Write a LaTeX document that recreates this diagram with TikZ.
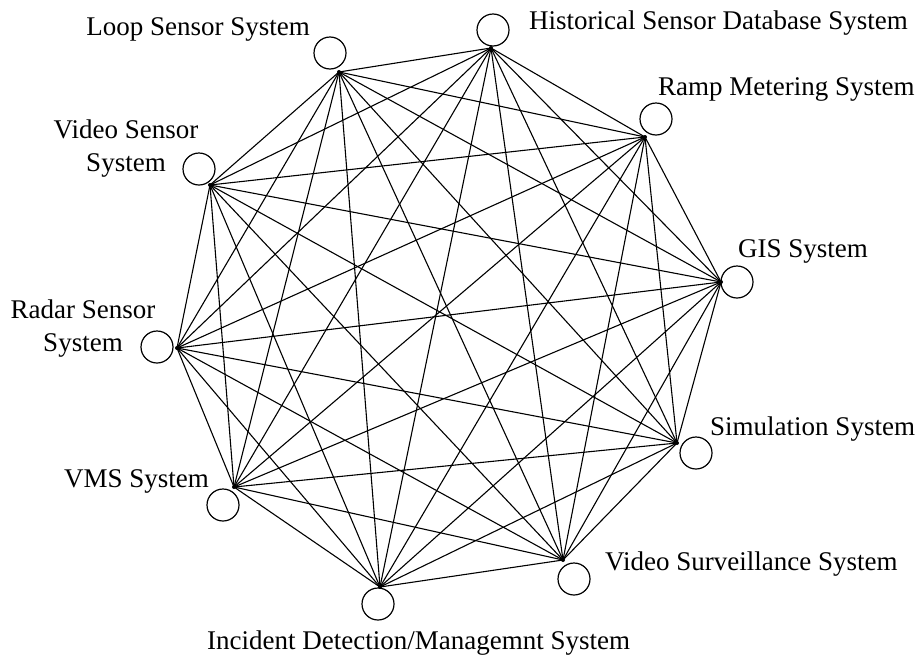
\documentclass[tikz,border=0pt]{standalone}
\usepackage{fontspec}
\setmainfont{Liberation Serif}
\begin{document}
\begin{tikzpicture}[x=1pt,y=-1pt,
  hub/.style={circle,fill=black,inner sep=0pt,minimum size=4pt},
  ring/.style={circle,draw=black,line width=1.2pt,inner sep=0pt,minimum size=32pt},
  link/.style={line width=1.1pt,black},
  lbl/.style={inner sep=0pt,font=\fontsize{27}{33}\selectfont}]
\useasboundingbox (0,0) rectangle (920,659);

% hubs where the links meet
\node[hub] (loop)  at (339,72)  {};
\node[hub] (hist)  at (491,48)  {};
\node[hub] (ramp)  at (645,137) {};
\node[hub] (gis)   at (721,282) {};
\node[hub] (sim)   at (677,443) {};
\node[hub] (vsurv) at (563,560) {};
\node[hub] (inc)   at (380,587) {};
\node[hub] (vms)   at (234,487) {};
\node[hub] (radar) at (177,348) {};
\node[hub] (vsens) at (210,185) {};

% system circles
\node[ring] (loopc)  at (330,53)  {};
\node[ring] (histc)  at (493,30)  {};
\node[ring] (rampc)  at (656,119) {};
\node[ring] (gisc)   at (737,282) {};
\node[ring] (simc)   at (696,453) {};
\node[ring] (vsurvc) at (574,579) {};
\node[ring] (incc)   at (378,604) {};
\node[ring] (vmsc)   at (223,505) {};
\node[ring] (radarc) at (157,347) {};
\node[ring] (vsensc) at (199,169) {};

% every system linked with every other one
\foreach \a [count=\i] in {loop,hist,ramp,gis,sim,vsurv,inc,vms,radar,vsens}{
  \foreach \b [count=\j] in {loop,hist,ramp,gis,sim,vsurv,inc,vms,radar,vsens}{
    \ifnum\j>\i
      \draw[link] (\a.center) -- (\b.center);
    \fi
  }
}

% labels
\node[lbl,anchor=base east] (loopt)  at (310,35)  {Loop Sensor System};
\node[lbl,anchor=base west] (histt)  at (529,29)  {Historical Sensor Database System};
\node[lbl,anchor=base west] (rampt)  at (658,95)  {Ramp Metering System};
\node[lbl,anchor=base west] (gist)   at (738,257) {GIS System};
\node[lbl,anchor=base west] (simt)   at (710,435) {Simulation System};
\node[lbl,anchor=base west] (vsurvt) at (605,570) {Video Surveillance System};
\node[lbl,anchor=base west] (inct)   at (207,649) {Incident Detection/Managemnt System};
\node[lbl,anchor=base east] (vmst)   at (209,487) {VMS System};
\node[lbl,align=center,anchor=north] (radart) at (83,300) {Radar Sensor\\System};
\node[lbl,align=center,anchor=north] (vsenst) at (126,120) {Video Sensor\\System};
\end{tikzpicture}
\end{document}
